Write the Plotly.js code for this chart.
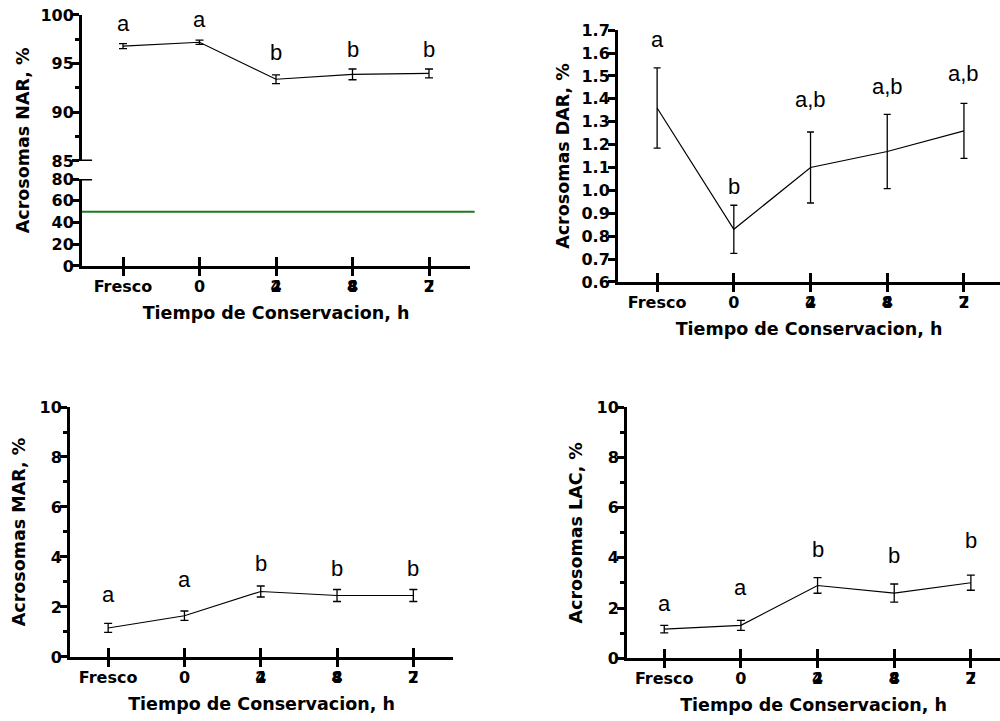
<!DOCTYPE html>
<html><head><meta charset="utf-8">
<script src="https://cdn.plot.ly/plotly-3.0.1.min.js"></script>
<style>html,body{margin:0;padding:0;background:#fff}#chart{width:1000px;height:721px}</style>
</head><body><div id="chart"></div>
<script>
// ---- data ----
const categories = ['Fresco', '0', '24', '48', '72'];

const narMean = [96.8, 97.2, 93.4, 93.9, 94.0];
const narErr  = [0.25, 0.22, 0.45, 0.55, 0.45];
const narLetters = ['a', 'a', 'b', 'b', 'b'];
const narLabelY = [98.28, 98.63, 95.3, 95.55, 95.55];

const darMean = [1.36, 0.83, 1.10, 1.17, 1.26];
const darErr  = [0.175, 0.105, 0.155, 0.162, 0.12];
const darLetters = ['a', 'b', 'a,b', 'a,b', 'a,b'];
const darLabelY = [1.62, 0.979, 1.362, 1.416, 1.474];

const marMean = [1.16, 1.65, 2.62, 2.46, 2.46];
const marErr  = [0.18, 0.19, 0.22, 0.24, 0.24];
const marLetters = ['a', 'a', 'b', 'b', 'b'];
const marLabelY = [2.15, 2.75, 3.41, 3.21, 3.21];

const lacMean = [1.16, 1.31, 2.90, 2.60, 3.01];
const lacErr  = [0.15, 0.20, 0.31, 0.36, 0.30];
const lacLetters = ['a', 'a', 'b', 'b', 'b'];
const lacLabelY = [1.86, 2.48, 3.98, 3.76, 4.34];

const refLineValue = 50;

const xTitle = 'Tiempo de Conservacion, h';
const yTitles = ['Acrosomas NAR, %', 'Acrosomas DAR, %', 'Acrosomas MAR, %', 'Acrosomas LAC, %'];

// ---- styles ----
const TICKFONT = {family: 'DejaVu Sans', size: 16, weight: 700, color: '#000'};
const TITLEFONT = {family: 'DejaVu Sans', size: 17.5, weight: 700, color: '#000'};
const LETTERFONT = {family: 'Liberation Sans, Arial, sans-serif', size: 22, color: '#000'};

// two-digit labels are drawn with their digits overprinted, as in the original
function tickLabel(s) {
  if (/^\d\d$/.test(s)) return '<span style="letter-spacing:-11.1px">' + s[0] + '</span>' + s[1];
  return s;
}

function series(y, err, xa, ya, capw) {
  return {type: 'scatter', mode: 'lines', x: categories, y: y, xaxis: xa, yaxis: ya,
    line: {color: '#000', width: 1.2},
    error_y: {type: 'data', array: err, visible: true, color: '#000', thickness: 1.3, width: capw},
    hoverinfo: 'skip', showlegend: false};
}
function dummy(xa, ya) {
  return {type: 'scatter', mode: 'lines', x: categories, y: categories.map(() => null),
    xaxis: xa, yaxis: ya, hoverinfo: 'skip', showlegend: false};
}
function xAxis(domain, range, anchor) {
  return {type: 'category', categoryorder: 'array', categoryarray: categories,
    domain: domain, range: range, anchor: anchor,
    tickmode: 'array', tickvals: categories, ticktext: categories.map(tickLabel),
    ticks: 'outside', ticklen: 7, tickwidth: 3, tickcolor: '#000', ticklabelstandoff: -3,
    showline: true, linewidth: 3, linecolor: '#000', showgrid: false, zeroline: false,
    tickfont: TICKFONT, title: {text: xTitle, font: TITLEFONT, standoff: 12}, fixedrange: true};
}
function xOverlay(over, range, anchor) {
  return {type: 'category', categoryorder: 'array', categoryarray: categories,
    overlaying: over, range: range, anchor: anchor,
    tickmode: 'array', tickvals: categories, ticks: 'inside', ticklen: 9, tickwidth: 3, tickcolor: '#000',
    showticklabels: false, showline: false, showgrid: false, zeroline: false, fixedrange: true};
}
function yAxis(domain, range, anchor, extra) {
  return Object.assign({domain: domain, range: range, anchor: anchor,
    ticks: 'outside', ticklen: 7, tickwidth: 3, tickcolor: '#000', ticklabelstandoff: -5,
    showline: true, linewidth: 3, linecolor: '#000', showgrid: false, zeroline: false,
    tickfont: TICKFONT, fixedrange: true}, extra);
}
function letters(labels, ys, xa, ya) {
  return labels.map((t, i) => ({xref: xa, yref: ya, x: i, y: ys[i], text: t,
    showarrow: false, font: LETTERFONT, xanchor: 'center', yanchor: 'bottom', yshift: -6}));
}

const rTL = [-0.536, 4.536], rTR = [-0.51, 4.47], rBL = [-0.5, 4.52], rBR = [-0.486, 4.38];
const MINOR = {ticks: 'outside', ticklen: 4, tickwidth: 3, tickcolor: '#000'};

const data = [
  series(narMean, narErr, 'x', 'y', 4),
  series(darMean, darErr, 'x2', 'y3', 3.5),
  series(marMean, marErr, 'x3', 'y4', 4),
  series(lacMean, lacErr, 'x4', 'y5', 4),
  dummy('x5', 'y2'), dummy('x6', 'y3'), dummy('x7', 'y4'), dummy('x8', 'y5')
];

const layout = {
  width: 1000, height: 721,
  margin: {l: 0, r: 0, t: 0, b: 0},
  paper_bgcolor: '#fff', plot_bgcolor: 'rgba(0,0,0,0)',
  showlegend: false,
  // top-left (broken axis)
  xaxis: xAxis([0.082, 0.470], rTL, 'y2'),
  yaxis: yAxis([0.7767, 0.9792], [85, 100], 'x', {dtick: 5, tick0: 85,
    minor: Object.assign({dtick: 2.5, tick0: 85}, MINOR)}),
  yaxis2: yAxis([0.6311, 0.7517], [0, 80], 'x', {dtick: 20, tick0: 0}),
  // top-right
  xaxis2: xAxis([0.618, 1.0], rTR, 'y3'),
  yaxis3: yAxis([0.6089, 0.9584], [0.6, 1.7005], 'x2', {dtick: 0.1, tick0: 0.6, tickformat: '.1f',
    title: {text: yTitles[1], font: TITLEFONT, standoff: 8}}),
  // bottom-left
  xaxis3: xAxis([0.070, 0.453], rBL, 'y4'),
  yaxis4: yAxis([0.0888, 0.4355], [0, 10], 'x3', {dtick: 2, tick0: 0,
    minor: Object.assign({dtick: 1, tick0: 0}, MINOR),
    title: {text: yTitles[2], font: TITLEFONT, standoff: 10}}),
  // bottom-right
  xaxis4: xAxis([0.627, 1.0], rBR, 'y5'),
  yaxis5: yAxis([0.087, 0.4351], [0, 10], 'x4', {dtick: 2, tick0: 0,
    minor: Object.assign({dtick: 1, tick0: 0}, MINOR),
    title: {text: yTitles[3], font: TITLEFONT, standoff: 10}}),
  // overlay axes giving the x ticks their inner half
  xaxis5: xOverlay('x', rTL, 'y2'),
  xaxis6: xOverlay('x2', rTR, 'y3'),
  xaxis7: xOverlay('x3', rBL, 'y4'),
  xaxis8: xOverlay('x4', rBR, 'y5'),
  shapes: [
    {type: 'line', xref: 'x domain', yref: 'y2', x0: 0, x1: 1.012, y0: refLineValue, y1: refLineValue,
      line: {color: '#1f7a1f', width: 2}, layer: 'above'},
    {type: 'line', xref: 'x domain', yref: 'y', x0: 0, x1: 0.026, y0: 85, y1: 85,
      line: {color: '#000', width: 3}},
    {type: 'line', xref: 'x domain', yref: 'y2', x0: 0, x1: 0.026, y0: 80, y1: 80,
      line: {color: '#000', width: 3}}
  ],
  annotations: [].concat(
    letters(narLetters, narLabelY, 'x', 'y'),
    letters(darLetters, darLabelY, 'x2', 'y3'),
    letters(marLetters, marLabelY, 'x3', 'y4'),
    letters(lacLetters, lacLabelY, 'x4', 'y5'),
    [{xref: 'paper', yref: 'paper', x: 0.0227, y: 1 - 140.5 / 721, text: yTitles[0], textangle: -90,
      showarrow: false, font: TITLEFONT, xanchor: 'center', yanchor: 'middle'}]
  )
};

Plotly.newPlot('chart', data, layout, {staticPlot: true, displayModeBar: false});
</script>
</body></html>
